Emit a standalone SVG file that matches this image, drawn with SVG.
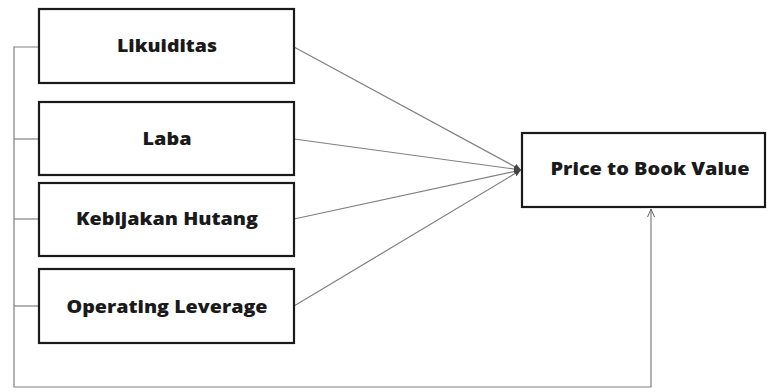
<svg xmlns="http://www.w3.org/2000/svg" width="767" height="392" viewBox="0 0 767 392">
<style>
.box{fill:#fff;stroke:#1a1a1a;stroke-width:2.2}
.lbl{font-family:"Open Sans","Liberation Sans",sans-serif;font-weight:800;font-size:17px;fill:#1a1a1a;text-anchor:middle}
.ln{fill:none;stroke:#808080;stroke-width:1.2}
</style>
<defs>
<marker id="ah" markerWidth="8" markerHeight="8" refX="7" refY="4" orient="auto" markerUnits="userSpaceOnUse">
<path d="M0,1 L7,4 L0,7 z" fill="#444"/>
</marker>
<marker id="ao" markerWidth="10" markerHeight="10" refX="8" refY="4" orient="auto" markerUnits="userSpaceOnUse">
<path d="M0,0.5 L8,4 L0,7.5" fill="none" stroke="#666" stroke-width="1"/>
</marker>
</defs>
<rect width="767" height="392" fill="#fff"/>
<g id="connectors">
<polyline class="ln" points="39,47 14,47 14,387 651,387 651,209" marker-end="url(#ao)"/>
<line class="ln" x1="14" y1="139" x2="39" y2="139"/>
<line class="ln" x1="14" y1="219" x2="39" y2="219"/>
<line class="ln" x1="14" y1="306" x2="39" y2="306"/>
<line class="ln" x1="294" y1="47" x2="521" y2="170" marker-end="url(#ah)"/>
<line class="ln" x1="294" y1="139" x2="521" y2="170" marker-end="url(#ah)"/>
<line class="ln" x1="294" y1="219" x2="521" y2="170" marker-end="url(#ah)"/>
<line class="ln" x1="294" y1="306" x2="521" y2="170" marker-end="url(#ah)"/>
</g>
<g id="likuiditas">
<rect class="box" x="39" y="9" width="255" height="74"/>
<text class="lbl" x="167" y="52" textLength="100" lengthAdjust="spacingAndGlyphs">Likuiditas</text>
</g>
<g id="laba">
<rect class="box" x="39" y="102" width="255" height="73"/>
<text class="lbl" x="167" y="145" textLength="49" lengthAdjust="spacingAndGlyphs">Laba</text>
</g>
<g id="kebijakan">
<rect class="box" x="39" y="183" width="255" height="73"/>
<text class="lbl" x="167" y="225" textLength="182" lengthAdjust="spacingAndGlyphs">Kebijakan Hutang</text>
</g>
<g id="operating">
<rect class="box" x="39" y="269" width="255" height="74"/>
<text class="lbl" x="167" y="313" textLength="201" lengthAdjust="spacingAndGlyphs">Operating Leverage</text>
</g>
<g id="pbv">
<rect class="box" x="522" y="133" width="243" height="74"/>
<text class="lbl" x="650" y="175" textLength="199" lengthAdjust="spacingAndGlyphs">Price to Book Value</text>
</g>
</svg>
